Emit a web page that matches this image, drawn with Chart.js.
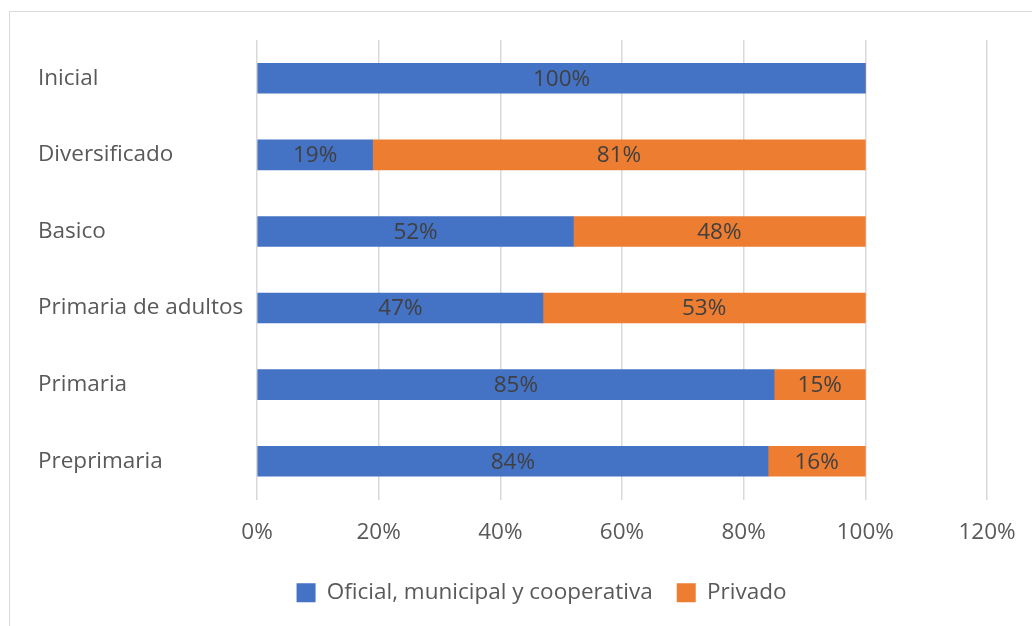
<!DOCTYPE html>
<html lang="es">
<head>
    <meta charset="UTF-8">
    <title>Matricula por sector</title>
    <script src="https://cdn.jsdelivr.net/npm/chart.js"></script>
    <style>
        html, body { margin: 0; padding: 0; background: #fff; }
        #frame {
            position: absolute; left: 9px; top: 11px; width: 1040px; height: 640px;
            border-top: 1px solid #d9d9d9; border-left: 1px solid #d9d9d9;
        }
        #wrap { position: absolute; left: 0; top: 0; width: 1032px; height: 626px; }
    </style>
</head>
<body>
    <div id="frame"></div>
    <div id="wrap"><canvas id="chart"></canvas></div>
    <script>
        const niveles = ['Inicial', 'Diversificado', 'Basico', 'Primaria de adultos', 'Primaria', 'Preprimaria'];
        const oficial = [100, 19, 52, 47, 85, 84];
        const privado = [0, 81, 48, 53, 15, 16];
        const xTicks = [0, 20, 40, 60, 80, 100, 120];

        const fontFam = '"Open Sans", "Noto Sans", sans-serif';
        const textColor = '#595959';
        const fontSize = 22.5;

        // draws the percentage in the middle of each bar
        const barLabels = {
            id: 'barLabels',
            afterDatasetsDraw(chart) {
                const ctx = chart.ctx;
                ctx.save();
                ctx.font = fontSize + 'px ' + fontFam;
                ctx.fillStyle = '#404040';
                ctx.textAlign = 'center';
                ctx.textBaseline = 'middle';
                chart.data.datasets.forEach((ds, i) => {
                    chart.getDatasetMeta(i).data.forEach((bar, j) => {
                        if (!ds.data[j]) return;
                        const cx = (bar.x + bar.base) / 2;
                        ctx.fillText(ds.data[j] + '%', cx, bar.y + 1);
                    });
                });
                ctx.restore();
            }
        };

        // legend in the original sits a bit right of centre
        const legendShift = {
            id: 'legendShift',
            afterLayout(chart) {
                chart.legend.left += 29;
                chart.legend.right += 29;
            }
        };

        new Chart(document.getElementById('chart'), {
            type: 'bar',
            data: {
                labels: niveles,
                datasets: [{
                    label: 'Oficial, municipal y cooperativa',
                    data: oficial,
                    backgroundColor: '#4472C4',
                    barThickness: 30
                }, {
                    label: 'Privado',
                    data: privado,
                    backgroundColor: '#ED7D31',
                    barThickness: 30
                }]
            },
            options: {
                indexAxis: 'y',
                responsive: true,
                maintainAspectRatio: false,
                animation: false,
                layout: { padding: { left: 38, right: 45, top: 40, bottom: 12 } },
                scales: {
                    x: {
                        stacked: true,
                        min: 0,
                        max: 120,
                        afterBuildTicks: axis => { axis.ticks = xTicks.map(v => ({ value: v })); },
                        afterFit: axis => { axis.height = 58; axis.paddingRight = 0; },
                        ticks: {
                            callback: v => v + '%',
                            color: textColor,
                            font: { family: fontFam, size: fontSize },
                            padding: 20,
                            maxRotation: 0
                        },
                        grid: { color: '#d9d9d9', drawTicks: false, lineWidth: 1.5 },
                        border: { display: false }
                    },
                    y: {
                        stacked: true,
                        afterFit: axis => { axis.width = 219; },
                        ticks: {
                            color: textColor,
                            font: { family: fontFam, size: fontSize },
                            crossAlign: 'far',
                            padding: 14
                        },
                        grid: { display: false },
                        border: { display: false }
                    }
                },
                plugins: {
                    legend: {
                        position: 'bottom',
                        labels: {
                            color: textColor,
                            font: { family: fontFam, size: fontSize },
                            boxWidth: 19,
                            boxHeight: 19,
                            padding: 24
                        }
                    },
                    tooltip: { enabled: false }
                }
            },
            plugins: [barLabels, legendShift]
        });
    </script>
</body>
</html>
